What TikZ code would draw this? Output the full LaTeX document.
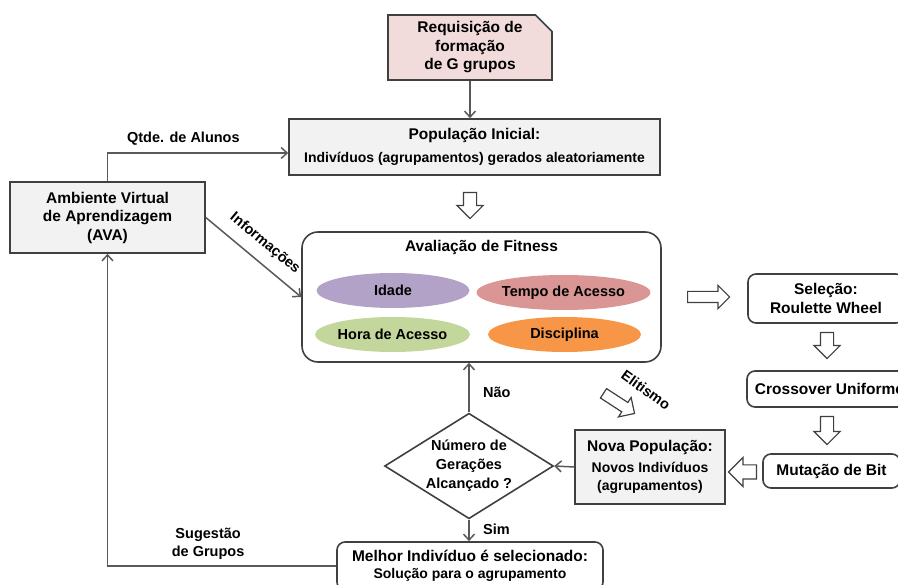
\documentclass[tikz,border=0pt]{standalone}
\usepackage{fontspec}
\setmainfont{Liberation Sans}
\usetikzlibrary{arrows.meta,positioning,shapes.geometric,shapes.misc,shapes.arrows}
\definecolor{edgecol}{RGB}{64,64,64}
\definecolor{linkcol}{RGB}{89,89,89}
\definecolor{boxfill}{RGB}{242,242,242}
\definecolor{reqfill}{RGB}{242,220,219}
\definecolor{idadecol}{RGB}{179,162,199}
\definecolor{tempocol}{RGB}{217,150,148}
\definecolor{horacol}{RGB}{195,214,155}
\definecolor{disccol}{RGB}{247,150,70}
\newcommand{\subt}{\fontsize{14}{17}\selectfont}

\begin{document}
\begin{tikzpicture}[
  x=1pt, y=-1pt,
  font=\bfseries\fontsize{15.5}{18.5}\selectfont,
  base/.style={draw=edgecol, line width=1.6pt, align=center, inner sep=2pt},
  grey/.style={base, fill=boxfill},
  req/.style={base, fill=reqfill, chamfered rectangle,
              chamfered rectangle corners=north east, chamfered rectangle xsep=13pt},
  rbox/.style={base, fill=white, rounded corners=8pt},
  panel/.style={base, fill=white, rounded corners=16pt},
  oval/.style={ellipse, minimum width=153pt, minimum height=35pt, inner sep=0pt,
               font=\bfseries\fontsize{14.5}{17}\selectfont},
  dia/.style={diamond, draw=edgecol, line width=1.6pt, fill=white, aspect=1.6,
              inner sep=0pt, minimum width=168pt, minimum height=105pt, align=center,
              font=\bfseries\fontsize{14.5}{19}\selectfont},
  hollow/.style={single arrow, draw=edgecol, line width=1.2pt, fill=white, inner sep=0pt,
                 inner ysep=6pt, single arrow head extend=6.5pt, minimum height=26pt},
  flow/.style={-{Straight Barb[length=6pt, width=11pt]}, line width=1.5pt, draw=linkcol},
  lbl/.style={font=\bfseries\fontsize{14.5}{18}\selectfont, align=center},
  ]
  \clip (0,0) rectangle (898,585);
  % boxes
  \node[req, minimum width=164pt, minimum height=65pt] (req) at (470,47.5) {Requisição de\\formação\\de G grupos};
  \node[grey, minimum width=371pt, minimum height=56pt] (pop) at (474.5,147)
    {População Inicial:\\[5pt]{\subt Indivíduos (agrupamentos) gerados aleatoriamente}};
  \node[grey, minimum width=195pt, minimum height=71pt] (ava) at (107.5,217.5) {Ambiente Virtual\\de Aprendizagem\\(AVA)};
  \node[panel, minimum width=359pt, minimum height=130pt] (fit) at (481.5,297) {};
  \node[below=6pt of fit.north] (fitt) {Avaliação de Fitness};
  \node[oval, fill=idadecol] (idade) at (393,290.5) {Idade};
  \node[oval, fill=tempocol] (tempo) at (563.5,292.5) {Tempo de Acesso};
  \node[oval, fill=horacol] (hora) at (392.5,334.5) {Hora de Acesso};
  \node[oval, fill=disccol] (disc) at (564.5,334.5) {Disciplina};
  \node[rbox, minimum width=156pt, minimum height=49pt] (sel) at (826,298.5) {Seleção:\\Roulette Wheel};
  \node[rbox, minimum width=165pt, minimum height=36pt] (cross) at (829.5,389) {Crossover Uniforme};
  \node[rbox, minimum width=137pt, minimum height=34pt] (mut) at (831.5,471) {Mutação de Bit};
  \node[grey, minimum width=150pt, minimum height=74pt] (nova) at (650,467)
    {Nova População:\\[2pt]{\subt Novos Indivíduos}\\{\subt (agrupamentos)}};
  \node[dia] (dia) at (469,466) {Número de\\Gerações\\Alcançado ?};
  \node[rbox, minimum width=266pt, minimum height=48pt] (best) at (470,566)
    {Melhor Indivíduo é selecionado:\\[-1pt]{\subt Solução para o agrupamento}};
  % block arrows
  \node[hollow, anchor=tail, rotate=-90] (h1) at (470,192) {};
  \node[hollow, anchor=tail, minimum height=42pt, inner ysep=5pt,
        single arrow head extend=6pt] (h2) at (687,297) {};
  \node[hollow, anchor=tail, rotate=-90] (h3) at (827,332) {};
  \node[hollow, anchor=tail, rotate=-90, minimum height=28pt] (h4) at (827,416) {};
  \node[hollow, anchor=tail, rotate=180, minimum height=28pt, inner ysep=6.5pt,
        single arrow head extend=7.5pt] (h5) at (757,472) {};
  \node[hollow, anchor=tail, rotate=-33, minimum height=37pt, inner ysep=5pt,
        single arrow head extend=6pt] (h6) at (603,393) {};
  \node[lbl, rotate=-36] (elit) at (646,390) {Elitismo};
  % connectors
  \draw[flow] (req.south) -- (req.south |- pop.north);
  \draw[flow] (ava.north) |- ([yshift=-6pt]pop.west) node[lbl, pos=0.71, above=4pt] {Qtde. de Alunos};
  \draw[flow] (ava.east) -- (fit.west) node[lbl, midway, sloped, above=7pt] {Informações};
  \draw[flow] (dia.north) -- (dia.north |- fit.south) node[lbl, pos=0.4, right=10pt] {Não};
  \draw[flow] (nova.west) -- (dia.east);
  \draw[flow] (dia.south) -- (dia.south |- best.north) node[lbl, pos=0.45, right=10pt] {Sim};
  \draw[flow] (best.west) -| (ava.south) node[lbl, pos=0.28, above=2pt] {Sugestão\\de Grupos};
\end{tikzpicture}
\end{document}
